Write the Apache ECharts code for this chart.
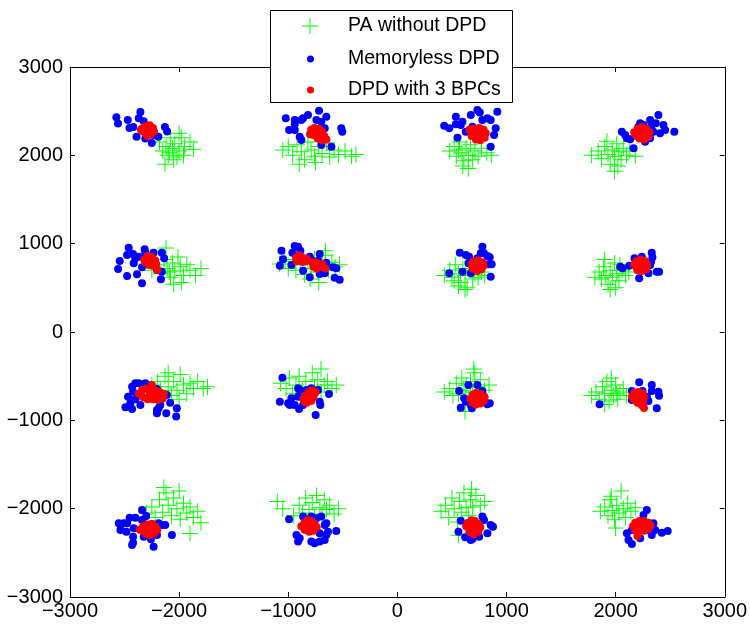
<!DOCTYPE html>
<html><head><meta charset="utf-8">
<script src="https://cdn.jsdelivr.net/npm/echarts@6/dist/echarts.min.js"></script>
<style>html,body{margin:0;padding:0;background:#fff}#c{width:750px;height:625px}</style>
</head><body><div id="c"></div>
<script>
var seriesNames = ['PA without DPD', 'Memoryless DPD', 'DPD with 3 BPCs'];
var axisTicks = [-3000, -2000, -1000, 0, 1000, 2000, 3000];

var paWithoutDpd = [
// row 1
[-2180,2150],[-2150,2050],[-2120,2100],[-2100,2000],[-2080,2200],[-2060,2080],[-2040,2130],[-2020,1980],[-2000,2050],[-1980,2200],[-1950,2100],[-1900,2150],[-1870,2070],[-2130,1900],[-2050,1950],[-2000,2250],[-2090,2030],[-1960,2000],
[-1050,2060],[-1000,2100],[-960,2000],[-920,2120],[-880,2040],[-850,1950],[-820,2150],[-790,2060],[-760,1990],[-720,2100],[-690,2020],[-650,2140],[-620,1980],[-580,2060],[-540,2010],[-480,2050],[-420,1990],[-380,2010],[-900,1900],[-750,1920],
[480,2050],[520,2100],[540,1990],[570,2150],[590,2030],[610,1940],[630,2080],[650,2000],[670,2120],[690,1950],[710,2050],[740,1990],[770,2080],[820,2030],[860,2000],[600,1880],[650,1850],[560,2060],
[1780,2000],[1840,2050],[1870,1960],[1900,2100],[1930,2010],[1950,1900],[1970,2060],[1990,1990],[2010,2130],[2030,2040],[2050,1950],[2070,2080],[2100,2000],[2130,2050],[2180,1990],[1990,1820],[2020,1880],[1920,2160],
// row 2
[-2250,700],[-2200,760],[-2170,660],[-2140,820],[-2110,720],[-2080,620],[-2060,780],[-2040,690],[-2010,850],[-1990,740],[-1960,640],[-1930,760],[-1900,700],[-1850,640],[-1800,720],[-2120,950],[-2050,540],[-1980,560],[-2090,680],
[-1080,770],[-1030,800],[-1000,720],[-960,820],[-930,700],[-890,760],[-850,650],[-820,790],[-790,720],[-760,830],[-720,680],[-690,760],[-660,870],[-630,700],[-600,790],[-570,740],[-530,760],[-720,560],[-660,920],[-800,600],
[430,640],[480,700],[500,620],[530,760],[560,660],[580,560],[600,720],[620,640],[640,500],[660,700],[690,600],[710,660],[740,620],[770,680],[800,640],[560,520],[620,480],[520,580],
[1810,620],[1850,680],[1870,600],[1890,740],[1910,640],[1930,540],[1950,700],[1970,620],[1990,780],[2010,660],[2030,580],[2060,700],[2090,640],[2120,680],[1950,480],[2000,500],[1900,820],[2040,760],
// row 3
[-2250,-600],[-2200,-560],[-2170,-660],[-2130,-500],[-2100,-620],[-2070,-720],[-2050,-560],[-2020,-660],[-1990,-480],[-1960,-600],[-1930,-700],[-1900,-580],[-1870,-640],[-1830,-560],[-1780,-640],[-1740,-620],[-2100,-460],[-2000,-760],
[-1070,-580],[-1020,-640],[-990,-520],[-960,-700],[-930,-600],[-900,-500],[-870,-660],[-840,-560],[-810,-720],[-780,-460],[-760,-620],[-730,-540],[-700,-680],[-670,-600],[-640,-560],[-600,-640],[-560,-600],[-700,-420],
[430,-680],[480,-640],[510,-720],[540,-580],[560,-700],[590,-520],[610,-660],[630,-600],[650,-760],[670,-560],[690,-680],[710,-460],[730,-620],[760,-540],[800,-660],[840,-600],[620,-900],[700,-420],
[1780,-720],[1820,-680],[1850,-760],[1880,-620],[1900,-700],[1920,-560],[1940,-780],[1960,-660],[1980,-720],[2000,-600],[2020,-760],[2040,-680],[2070,-640],[2100,-720],[1900,-820],[1960,-520],[2010,-700],
// row 4
[-2300,-2050],[-2250,-1980],[-2220,-2100],[-2180,-1900],[-2150,-2040],[-2120,-1820],[-2100,-1960],[-2070,-2080],[-2050,-1880],[-2020,-2000],[-1990,-2120],[-1960,-1940],[-1930,-2050],[-1900,-1980],[-1870,-2100],[-1830,-2030],[-1800,-2160],[-1900,-2280],[-2140,-1760],[-2000,-1800],
[-1100,-1920],[-1050,-2000],[-950,-2080],[-900,-1960],[-870,-2050],[-840,-1880],[-810,-2010],[-780,-1930],[-760,-2100],[-740,-1850],[-710,-1990],[-690,-2060],[-670,-1900],[-650,-2010],[-620,-1960],[-580,-2060],[-540,-2000],[-820,-2150],
[400,-2030],[440,-1960],[470,-2100],[500,-1880],[520,-2000],[550,-2150],[570,-1920],[590,-2040],[610,-1820],[630,-1990],[650,-2080],[670,-1900],[690,-1980],[720,-1850],[760,-1960],[800,-1920],[560,-2300],[680,-1780],
[1860,-2030],[1900,-1980],[1930,-2080],[1950,-1900],[1970,-2020],[1990,-2120],[2010,-1960],[2030,-2050],[2050,-1800],[2070,-2000],[2090,-2100],[2110,-1940],[2140,-2030],[2180,-1990],[2000,-2220],[1960,-1860]
];

var memorylessDpd = [
// row 1
[-2575,2430],[-2560,2360],[-2470,2400],[-2455,2310],[-2390,2210],[-2355,2490],[-2370,2420],[-2325,2385],[-2280,2320],[-2235,2230],[-2250,2140],[-2190,2210],[-2130,2320],[-2110,2270],[-2420,2320],[-2310,2190],
[-1023,2419],[-940,2400],[-940,2351],[-992,2287],[-940,2287],[-880,2400],[-864,2419],[-819,2456],[-718,2505],[-742,2400],[-697,2381],[-651,2437],[-666,2306],[-895,2211],[-880,2174],[-514,2306],[-505,2268],[-605,2098],[-697,2117],
[429,2336],[475,2306],[536,2437],[536,2351],[581,2343],[596,2381],[673,2456],[733,2513],[755,2486],[779,2400],[825,2419],[855,2400],[916,2494],[901,2306],[886,2230],[855,2098],[551,2200],[627,2268],[688,2324],
[2057,2268],[2088,2230],[2103,2192],[2134,2181],[2164,2079],[2209,2325],[2225,2362],[2255,2343],[2316,2400],[2325,2325],[2346,2268],[2368,2362],[2392,2456],[2407,2249],[2438,2343],[2453,2287],[2538,2268],[2270,2155],[2316,2192],
// row 2
[-2462,955],[-2477,872],[-2544,804],[-2559,713],[-2477,634],[-2386,653],[-2422,883],[-2401,834],[-2371,853],[-2416,777],[-2340,732],[-2316,936],[-2310,898],[-2234,898],[-2158,898],[-2137,834],[-2158,683],[-2167,596],[-2340,551],[-2203,702],[-2264,758],
[-1062,921],[-1047,823],[-1077,751],[-971,758],[-962,898],[-941,974],[-910,966],[-889,921],[-864,796],[-803,853],[-788,815],[-712,883],[-727,807],[-651,785],[-864,694],[-803,619],[-712,657],[-666,664],[-590,732],[-560,721],[-575,615],[-529,592],
[475,664],[572,898],[627,872],[657,853],[651,777],[597,683],[673,664],[779,966],[794,891],[825,860],[846,845],[840,766],[864,766],[855,626],[733,834],[764,891],
[2042,740],[2063,721],[2124,751],[2173,834],[2209,815],[2240,853],[2331,898],[2337,845],[2325,796],[2316,758],[2301,664],[2377,683],[2398,683],[2216,608],[2286,777],
// row 3
[-2492,-853],[-2468,-732],[-2431,-872],[-2447,-807],[-2431,-619],[-2401,-581],[-2371,-581],[-2422,-675],[-2401,-762],[-2355,-826],[-2310,-581],[-2203,-645],[-2203,-883],[-2203,-921],[-2188,-864],[-2118,-921],[-2082,-800],[-2112,-713],[-2158,-751],[-2021,-864],[-2027,-958],[-2173,-826],[-2279,-751],
[-1053,-517],[-1077,-789],[-1001,-807],[-986,-826],[-971,-751],[-910,-638],[-895,-657],[-910,-732],[-941,-826],[-901,-872],[-864,-826],[-834,-657],[-788,-638],[-727,-657],[-712,-789],[-706,-826],[-749,-940],[-627,-702],[-864,-751],
[566,-668],[651,-600],[733,-600],[779,-668],[612,-751],[627,-789],[581,-857],[682,-864],[673,-826],[825,-819],[846,-807],[794,-732],
[1853,-819],[2149,-668],[2216,-570],[2246,-668],[2331,-600],[2331,-668],[2392,-675],[2398,-721],[2377,-864],[2286,-732],[2149,-770],[2300,-780],
// row 4
[-2553,-2166],[-2538,-2241],[-2508,-2166],[-2477,-2166],[-2483,-2260],[-2453,-2102],[-2422,-2317],[-2431,-2411],[-2422,-2385],[-2401,-2102],[-2340,-2015],[-2340,-2128],[-2325,-2317],[-2301,-2083],[-2258,-2347],[-2234,-2430],[-2203,-2298],[-2188,-2166],[-2158,-2185],[-2127,-2185],[-2066,-2298],[-2416,-2222],
[-992,-2121],[-925,-2298],[-910,-2373],[-895,-2336],[-864,-2090],[-788,-2090],[-742,-2109],[-697,-2090],[-666,-2185],[-651,-2166],[-636,-2260],[-651,-2298],[-666,-2355],[-712,-2373],[-758,-2392],[-788,-2373],[-560,-2253],[-712,-2279],
[581,-2136],[560,-2260],[621,-2324],[673,-2355],[749,-2317],[779,-2090],[794,-2128],[825,-2279],[855,-2185],[876,-2204],[749,-2222],[690,-2340],
[2103,-2279],[2118,-2355],[2149,-2400],[2149,-2241],[2225,-2336],[2255,-2072],[2286,-2015],[2301,-2241],[2346,-2166],[2362,-2241],[2331,-2298],[2423,-2272],[2477,-2253],[2270,-2166]
];

var dpd3Bpcs = [
// row 1
[-2340,2300],[-2310,2330],[-2270,2340],[-2240,2310],[-2230,2270],[-2260,2240],[-2300,2250],[-2330,2270],[-2280,2290],[-2250,2280],[-2350,2290],[-2290,2220],
[-790,2290],[-760,2310],[-720,2300],[-690,2270],[-670,2220],[-690,2170],[-730,2190],[-770,2230],[-740,2250],[-800,2240],[-710,2230],[-650,2180],
[660,2290],[700,2300],[750,2310],[790,2290],[810,2250],[800,2200],[760,2170],[720,2180],[680,2220],[740,2240],[700,2250],[770,2230],
[2170,2260],[2200,2300],[2240,2320],[2280,2300],[2310,2260],[2300,2210],[2260,2180],[2220,2190],[2190,2220],[2240,2250],[2270,2240],[2210,2260],
// row 2
[-2320,820],[-2290,860],[-2250,850],[-2220,810],[-2210,770],[-2240,750],[-2280,760],[-2310,790],[-2260,800],[-2230,790],[-2200,702],[-2290,830],
[-930,840],[-900,870],[-870,840],[-880,800],[-920,800],[-830,830],[-840,800],[-780,790],[-750,790],[-720,770],[-700,740],[-740,720],[-770,740],[-690,770],[-660,720],
[680,760],[700,800],[740,810],[780,790],[790,750],[770,710],[730,690],[690,720],[740,750],[760,770],[710,740],
[2170,760],[2190,800],[2230,820],[2270,800],[2290,760],[2280,710],[2240,690],[2200,700],[2230,750],[2250,770],[2190,730],
// row 3
[-2370,-700],[-2340,-660],[-2300,-640],[-2260,-630],[-2250,-600],[-2220,-660],[-2180,-680],[-2140,-700],[-2150,-750],[-2190,-770],[-2240,-760],[-2290,-760],[-2330,-740],[-2270,-700],[-2210,-720],[-2170,-730],
[-860,-760],[-840,-720],[-810,-680],[-780,-660],[-760,-700],[-770,-740],[-790,-780],[-830,-800],[-800,-730],[-750,-680],[-850,-790],
[670,-760],[690,-710],[720,-690],[760,-700],[780,-740],[790,-780],[760,-810],[720,-820],[690,-800],[730,-750],[750,-770],[800,-740],
[2150,-730],[2170,-690],[2210,-680],[2250,-700],[2260,-740],[2250,-790],[2240,-830],[2200,-800],[2170,-770],[2210,-750],[2230,-770],[2260,-860],
// row 4
[-2360,-2240],[-2330,-2200],[-2290,-2180],[-2250,-2170],[-2220,-2200],[-2200,-2240],[-2230,-2280],[-2270,-2300],[-2310,-2280],[-2280,-2240],[-2250,-2230],[-2320,-2250],
[-880,-2200],[-850,-2160],[-820,-2130],[-790,-2140],[-760,-2170],[-740,-2210],[-770,-2250],[-810,-2260],[-850,-2240],[-800,-2200],[-780,-2180],[-830,-2200],
[630,-2200],[650,-2160],[680,-2130],[710,-2140],[740,-2170],[760,-2210],[740,-2260],[700,-2290],[660,-2260],[690,-2210],[720,-2220],[670,-2180],
[2160,-2200],[2180,-2160],[2220,-2140],[2260,-2140],[2300,-2160],[2320,-2190],[2300,-2230],[2260,-2250],[2210,-2260],[2180,-2240],[2240,-2200],[2200,-2310],[2280,-2200]
];

var PLUS = 'path://M0,7.5H16V8.5H0Z M7.5,0H8.5V16H7.5Z';
var FONT = 'Liberation Sans, Arial, Helvetica, sans-serif';
function fmt(v){ return String(v).replace('-', '\u2212'); }

var chart = echarts.init(document.getElementById('c'), null, {renderer:'canvas'});
var axisCommon = {
  min: axisTicks[0], max: axisTicks[axisTicks.length-1], interval: 1000,
  splitLine: {show:false},
  axisLine: {show:true, onZero:false, lineStyle:{color:'#000', width:1}},
  axisTick: {show:true, inside:true, length:5, lineStyle:{color:'#000'}}
};
var option = {
  animation: false,
  backgroundColor: '#fff',
  grid: {left:70, right:23, top:67, bottom:28, containLabel:false},
  xAxis: [
    Object.assign({type:'value', position:'bottom',
      axisLabel:{color:'#000', fontSize:20, fontFamily:FONT, margin:4, formatter:fmt, showMinLabel:true, showMaxLabel:true}}, axisCommon),
    Object.assign({type:'value', position:'top', axisLabel:{show:false}}, axisCommon)
  ],
  yAxis: [
    Object.assign({type:'value', position:'left',
      axisLabel:{color:'#000', fontSize:20, fontFamily:FONT, margin:7, formatter:fmt, showMinLabel:true, showMaxLabel:true}}, axisCommon),
    Object.assign({type:'value', position:'right', axisLabel:{show:false}}, axisCommon)
  ],
  graphic: [{
    type:'rect', left:270, top:10, z:50,
    shape:{width:242, height:92},
    style:{fill:'#fff', stroke:'#000', lineWidth:1}
  }],
  legend: [
    {data:[{name:seriesNames[0], icon:PLUS}], left:302, top:16, itemWidth:16, itemHeight:16, z:60, padding:0,
     textStyle:{fontSize:19.5, fontFamily:FONT, color:'#000', padding:[0,0,0,25]}, selectedMode:false},
    {data:[{name:seriesNames[1], icon:'circle'}], left:307, top:49, itemWidth:7, itemHeight:7, z:60, padding:0,
     textStyle:{fontSize:19.5, fontFamily:FONT, color:'#000', padding:[0,0,0,29]}, selectedMode:false},
    {data:[{name:seriesNames[2], icon:'circle'}], left:307, top:80, itemWidth:7, itemHeight:7, z:60, padding:0,
     textStyle:{fontSize:19.5, fontFamily:FONT, color:'#000', padding:[0,0,0,29]}, selectedMode:false}
  ],
  series: [
    {name:seriesNames[0], type:'scatter', data:paWithoutDpd, symbol:PLUS, symbolSize:16,
     itemStyle:{color:'#00ff00', opacity:1}, z:2},
    {name:seriesNames[1], type:'scatter', data:memorylessDpd, symbol:'circle', symbolSize:8,
     itemStyle:{color:'#0000ff', opacity:1}, z:3},
    {name:seriesNames[2], type:'scatter', data:dpd3Bpcs, symbol:'circle', symbolSize:8,
     itemStyle:{color:'#ff0000', opacity:1}, z:4}
  ]
};
chart.setOption(option);
</script>
</body></html>
